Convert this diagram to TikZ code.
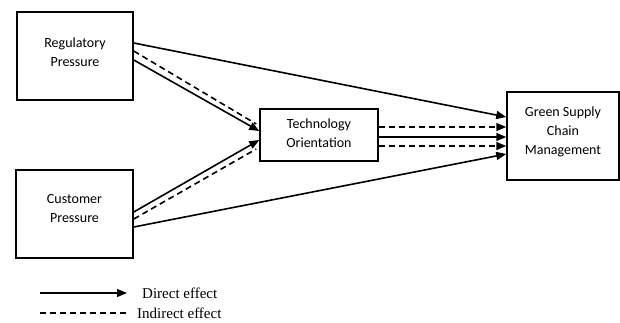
\documentclass[tikz,border=0pt]{standalone}
\usepackage{fontspec}
\setmainfont{Carlito}
\newfontfamily\legendfont{Liberation Serif}
\usetikzlibrary{arrows.meta}
\begin{document}
\begin{tikzpicture}[x=1pt,y=-1pt,
  box/.style={draw,line width=1.5pt,inner sep=0pt},
  txt/.style={inner sep=0pt,align=center,font=\fontsize{14}{19}\selectfont},
  direct/.style={line width=1.6pt,-{Triangle[length=10pt,width=8pt]}},
  indirect/.style={line width=1.6pt,dash pattern=on 6pt off 4pt},
  indirectarrow/.style={indirect,-{Triangle[length=10pt,width=8pt]}},
  lab/.style={font=\legendfont\fontsize{15}{17}\selectfont,anchor=west,inner sep=0pt}]
\useasboundingbox (0,0) rectangle (620,322);
\node[box,minimum width=116pt,minimum height=88pt] (reg) at (75,56) {};
\node[box,minimum width=117pt,minimum height=88pt] (cus) at (74.5,214) {};
\node[box,minimum width=118pt,minimum height=52pt] (tech) at (319,135) {};
\node[box,minimum width=112pt,minimum height=88pt] (gscm) at (563,136) {};
\node[txt] (regt) at ([yshift=4pt]reg.center) {Regulatory\\Pressure};
\node[txt] (cust) at ([yshift=5pt]cus.center) {Customer\\Pressure};
\node[txt] (techt) at ([yshift=1.5pt]tech.center) {Technology\\Orientation};
\node[txt] (gscmt) at ([yshift=4.5pt]gscm.center) {Green Supply\\Chain\\Management};
% regulatory
\draw[direct] ([yshift=13pt]reg.east) -- ([yshift=19pt]gscm.west);
\draw[indirect] ([yshift=5pt]reg.east) -- ([xshift=-3pt,yshift=11pt]tech.west);
\draw[direct] ([yshift=-4pt]reg.east) -- ([yshift=4pt]tech.west);
% customer
\draw[direct] ([yshift=2pt]cus.east) -- ([yshift=-5pt]tech.west);
\draw[indirect] ([yshift=-5pt]cus.east) -- ([xshift=-3pt,yshift=-14pt]tech.west);
\draw[direct] ([yshift=-13pt]cus.east) -- ([yshift=-18pt]gscm.west);
% technology
\draw[indirectarrow] ([yshift=8pt]tech.east) -- ([yshift=9pt]gscm.west);
\draw[direct] ([yshift=-2pt]tech.east) -- ([yshift=-1pt]gscm.west);
\draw[indirectarrow] ([yshift=-11pt]tech.east) -- ([yshift=-10pt]gscm.west);
% legend
\coordinate (l1a) at (40,293);
\coordinate (l1b) at (127,293);
\coordinate (l2a) at (40,313);
\coordinate (l2b) at (128,313);
\draw[line width=1.1pt,-{Triangle[length=10pt,width=8pt]}] (l1a) -- (l1b);
\draw[line width=1.1pt,dash pattern=on 6pt off 4pt] (l2a) -- (l2b);
\node[lab] (t1) at (142,293) {Direct effect};
\node[lab] (t2) at (137,313) {Indirect effect};
\end{tikzpicture}
\end{document}
